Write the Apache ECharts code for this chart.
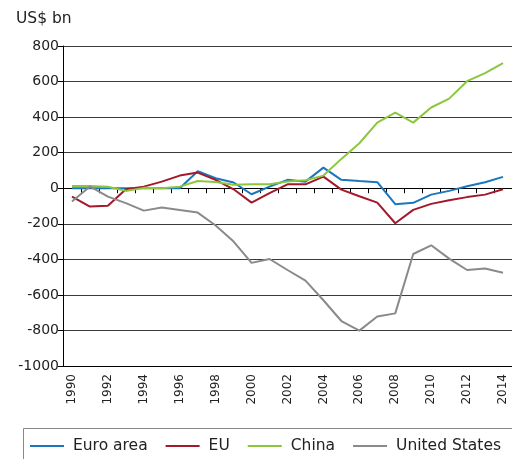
<!DOCTYPE html>
<html>
<head>
<meta charset="utf-8">
<script src="https://cdn.jsdelivr.net/npm/echarts@6/dist/echarts.min.js"></script>
<style>html,body{margin:0;padding:0;background:#fff;}#c{width:512px;height:459px;}</style>
</head>
<body>
<div id="c"></div>
<script>
var years = ['1990','1991','1992','1993','1994','1995','1996','1997','1998','1999','2000','2001','2002','2003','2004','2005','2006','2007','2008','2009','2010','2011','2012','2013','2014'];
var euroArea = [0, 0, 0, 0, 0, 0, 0, 96, 56, 32, -34, 9, 47, 37, 116, 47, 40, 34, -90, -82, -36, -15, 11, 34, 64];
var eu = [-47, -103, -98, -6, 9, 37, 71, 88, 47, -6, -81, -28, 22, 22, 65, -8, -45, -81, -197, -122, -88, -68, -50, -36, -6];
var china = [13, 13, 8, -15, 2, 0, 9, 41, 35, 19, 22, 22, 38, 45, 71, 165, 253, 369, 425, 369, 454, 504, 602, 647, 703];
var unitedStates = [-75, 10, -47, -84, -126, -109, -122, -137, -210, -300, -420, -398, -460, -520, -630, -747, -801, -722, -704, -370, -321, -396, -460, -452, -475];
var yTicks = {min: -1000, max: 800, step: 200};

var FONT = 'DejaVu Sans';
var chart = echarts.init(document.getElementById('c'), null, {renderer: 'canvas'});
function line(name, data, color) {
  return {name: name, type: 'line', data: data, symbol: 'none', xAxisIndex: 0, yAxisIndex: 0,
    lineStyle: {color: color, width: 2}, itemStyle: {color: color}, animation: false};
}
chart.setOption({
  animation: false,
  textStyle: {fontFamily: FONT},
  title: {text: 'US$ bn', left: 16, top: 11, padding: 0, textStyle: {fontFamily: FONT, fontSize: 15.5, fontWeight: 'normal', color: '#222'}},
  grid: {left: 63, top: 46, width: 456, height: 320, containLabel: false},
  xAxis: [
    {type: 'category', data: years, position: 'bottom', boundaryGap: true,
      axisLine: {show: true, onZero: false, lineStyle: {color: '#000', width: 1}},
      axisTick: {show: false},
      axisLabel: {interval: 1, rotate: 90, margin: 8, fontSize: 12, color: '#222', fontFamily: FONT},
      splitLine: {show: false}},
    {type: 'category', data: years, position: 'bottom', boundaryGap: true,
      axisLine: {show: true, onZero: true, onZeroAxisIndex: 0, lineStyle: {color: '#000', width: 1}},
      axisTick: {show: true, interval: 0, inside: false, length: 5, lineStyle: {color: '#000'}},
      axisLabel: {show: false, interval: 0},
      splitLine: {show: false}}
  ],
  yAxis: {type: 'value', min: yTicks.min, max: yTicks.max, interval: yTicks.step,
    axisLine: {show: true, lineStyle: {color: '#000', width: 1}},
    axisTick: {show: true, length: 5, lineStyle: {color: '#000'}},
    axisLabel: {fontSize: 14, color: '#222', margin: 4, fontFamily: FONT, formatter: function (v) { return String(v); }},
    splitLine: {show: true, lineStyle: {color: '#3a3a3a', width: 1}}},
  legend: {left: 30, top: 438, padding: 0, icon: 'rect', itemWidth: 34, itemHeight: 2, itemGap: 18,
    textStyle: {fontSize: 15.5, color: '#222', fontFamily: FONT, padding: [0, 0, 0, 4]},
    data: ['Euro area', 'EU', 'China', 'United States']},
  graphic: [{type: 'rect', left: 21, top: 426, shape: {width: 520, height: 50}, style: {fill: 'none', stroke: '#888', lineWidth: 1}, silent: true}],
  series: [
    line('Euro area', euroArea, '#1a76bd'),
    line('EU', eu, '#a3192b'),
    line('China', china, '#8cc63f'),
    line('United States', unitedStates, '#8a8a8a')
  ]
});
</script>
</body>
</html>
